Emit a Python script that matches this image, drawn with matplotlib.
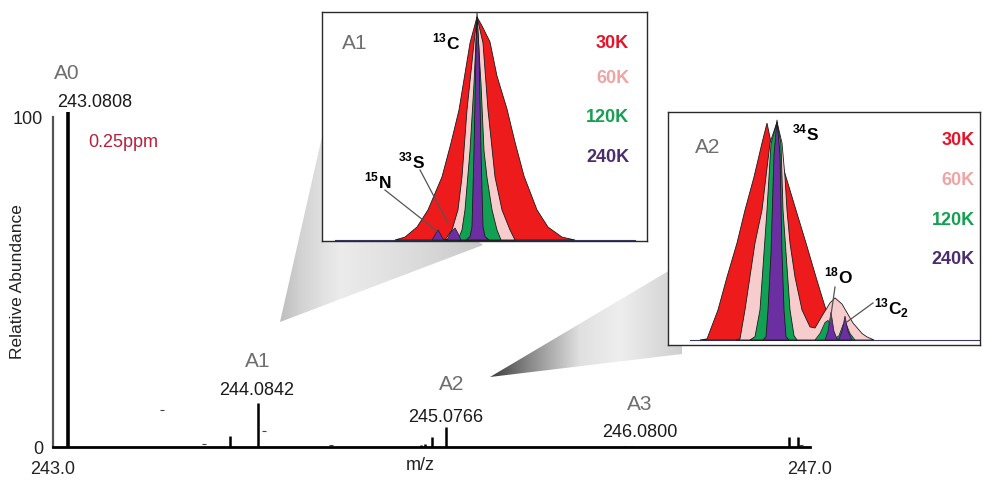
import numpy as np
import matplotlib.pyplot as plt
from matplotlib.patches import Polygon
from matplotlib.colors import to_rgb

plt.rcParams['font.family'] = ['Liberation Sans', 'DejaVu Sans']
plt.rcParams['mathtext.fontset'] = 'custom'
plt.rcParams['mathtext.rm'] = 'Liberation Sans'
plt.rcParams['mathtext.bf'] = 'Liberation Sans:bold'

# centroid spectrum (m/z, relative abundance)
peak_mz = [243.0808, 243.935, 244.0842, 244.945, 244.965, 245.003, 245.0766,
           246.02, 246.06, 246.889, 246.937]
peak_int = [101.5, 3.3, 13.3, 0.6, 0.8, 3.0, 6.1, 0.3, 0.3, 3.0, 3.0]
noise_mz = [243.576, 244.115, 243.80, 244.47, 246.95]
noise_int = [11.2, 4.8, 0.9, 0.6, 0.5]

# peak labels
iso_names = ['A0', 'A1', 'A2', 'A3']
iso_name_xy = [(243.074, 113.3), (244.083, 25.8), (245.108, 18.8), (246.102, 12.8)]
iso_mass = ['243.0808', '244.0842', '245.0766', '246.0800']
iso_mass_xy = [(243.222, 104.5), (244.078, 17.0), (245.077, 8.8), (246.102, 4.5)]

resolutions = ['30K', '60K', '120K', '240K']
res_fill = ['#ee1b1d', '#f7cccc', '#12a055', '#6b2fa2']
res_text = ['#e5142b', '#eea4a4', '#13a050', '#4b2d6e']

# A1 zoom profiles (position, % intensity)
a1_30k = [(395, 0), (405, 1.3), (417, 5.8), (428, 13.5), (442, 28.3), (451, 43.5),
          (459, 58.3), (470, 88.3), (477, 100), (482, 96), (490, 88.8), (497, 73.5),
          (507, 58.7), (515, 43.9), (524, 28.7), (537, 13.5), (548, 5.8), (562, 1.3), (575, 0)]
a1_60k = [(445, 0), (452, 4.5), (458, 13.5), (462, 28.3), (467, 58.3), (474, 88.3),
          (477, 100), (483, 88.3), (488, 58.3), (495, 28.3), (502, 13.5), (510, 4.5), (515, 0)]
a1_120k = [(458, 0), (462, 4.5), (465, 13.5), (470, 40), (474, 70), (477, 100),
           (481, 70), (484, 40), (487, 28), (492, 13.5), (497, 4.5), (501, 0)]
a1_240k = [(466, 0), (470, 1.5), (472, 6), (474, 40), (476, 85), (477, 102),
           (479, 85), (481, 40), (483, 6), (485, 1.5), (489, 0)]
a1_240k_minor = [(432, 0), (436, 3), (438, 4.5), (440, 3), (443, 0.5), (447, 0),
                 (451, 3.5), (455, 5.4), (458, 3), (461, 0)]

# A2 zoom profiles
a2_30k = [(700, 0), (707, 0.5), (718, 13.8), (727, 28.9), (737, 44.5), (745, 59.6),
          (754, 74.8), (762, 90.4), (767, 99.5), (772, 88.5), (780, 83.9), (786, 74.8),
          (796, 59.6), (806, 44.5), (816, 28.9), (823, 18.3), (827, 12.4), (835, 4.6), (845, 0)]
a2_60k = [(736, 0), (740, 0.5), (745, 13.8), (755, 44.5), (762, 59.6), (770, 90.4),
          (777, 100), (782, 90.4), (785, 74.8), (787, 59.6), (790, 44.5), (795, 28.9),
          (802, 13.8), (810, 6), (815, 5.5), (822, 11), (830, 17), (835, 19.3),
          (842, 16.5), (853, 7.8), (862, 3), (867, 1.4), (874, 0)]
a2_120k = [(750, 0), (755, 1.5), (760, 13.8), (764, 40), (767, 59.6), (771, 90),
           (777, 100), (781, 90), (783, 59.6), (786, 40), (790, 13.8), (794, 2), (797, 0)]
a2_120k_minor = [(815, 0), (820, 3), (825, 8), (828, 9), (832, 5), (836, 1),
                 (839, 2), (843, 7), (846, 7.5), (850, 3), (855, 0)]
a2_240k = [(763, 0), (766, 1.5), (768, 13.8), (771, 40), (774, 85), (777, 101),
           (780, 85), (782, 40), (784, 13.8), (786, 1.5), (789, 0)]
a2_240k_minor = [(825, 0), (828, 4), (831, 12.8), (834, 4), (837, 0.5), (839, 0.5),
                 (842, 4), (845, 11), (848, 4), (852, 0)]

W, H = 983, 480
fig = plt.figure(figsize=(W / 100, H / 100), dpi=100)


def frac_box(x0, y0, x1, y1):
    return [x0 / W, 1 - y1 / H, (x1 - x0) / W, (y1 - y0) / H]


# ---- main spectrum ----
ax = fig.add_axes(frac_box(53, 117, 810, 447), zorder=0)
ax.vlines(peak_mz[:1], 0, peak_int[:1], color='black', lw=2.6, clip_on=False)
ax.vlines(peak_mz[1:], 0, peak_int[1:], color='black', lw=1.8, clip_on=False)
ax.scatter(noise_mz, noise_int, marker='_', s=8, color='#444444', lw=0.8)
ax.set_xlim(243.0, 247.0)
ax.set_ylim(0, 100)
ax.set_xticks([243.0, 247.0])
ax.set_xticklabels(['243.0', '247.0'])
ax.set_yticks([0, 100])
ax.tick_params(length=0, labelsize=13, colors='#222222')
ax.tick_params(axis='x', pad=10)
ax.tick_params(axis='y', pad=7)
for s in ['top', 'right']:
    ax.spines[s].set_visible(False)
ax.spines['bottom'].set_linewidth(2)
ax.spines['left'].set_linewidth(1.6)
ax.spines['left'].set_color('#555555')
fig.text(18 / W, 1 - 282 / H, 'Relative Abundance', fontsize=12.5, color='#222222',
         rotation=90, ha='center', va='center')
fig.text(420 / W, 1 - 466 / H, 'm/z', fontsize=13, color='#222222', ha='center', va='center')

for name, (x, y) in zip(iso_names, iso_name_xy):
    ax.text(x, y, name, fontsize=15, color='#6e6e6e', ha='center', va='center')
for m, (x, y) in zip(iso_mass, iso_mass_xy):
    ax.text(x, y, m, fontsize=13, color='#1a1a1a', ha='center', va='center')
ax.text(243.185, 92.4, '0.25ppm', fontsize=13, color='#b8203c', ha='left', va='center')

# ---- callout wedges ----
ov = fig.add_axes([0, 0, 1, 1], zorder=1)
ov.set_xlim(0, W)
ov.set_ylim(H, 0)
ov.axis('off')


def wedge(pts, stops, cols):
    xs = [p[0] for p in pts]
    ys = [p[1] for p in pts]
    gx = np.linspace(min(xs), max(xs), 200)
    rgb = np.array([to_rgb(c) for c in cols])
    img = np.stack([np.interp(gx, stops, rgb[:, k]) for k in range(3)], axis=-1)[None, :, :]
    im = ov.imshow(img, extent=(min(xs), max(xs), max(ys), min(ys)), aspect='auto',
                   interpolation='bilinear')
    poly = Polygon(pts, closed=True, facecolor='none', edgecolor='none')
    ov.add_patch(poly)
    im.set_clip_path(poly)


wedge([(280, 322), (324, 128), (483, 245)],
      [280, 300, 340, 420, 483], ['#bdbdbd', '#d2d2d2', '#ececec', '#dadada', '#c8c8c8'])
wedge([(490, 377), (682, 263), (682, 354)],
      [490, 530, 580, 620, 682], ['#3c3c3c', '#8a8a8a', '#e0e0e0', '#eeeeee', '#cfcfcf'])


# ---- zoom insets ----
def draw_inset(box, ylim, profiles, minors, baseline_span):
    ins = fig.add_axes(frac_box(*box), zorder=2)
    ins.set_xlim(box[0], box[2])
    ins.set_ylim(*ylim)
    ins.set_xticks([])
    ins.set_yticks([])
    for s in ins.spines.values():
        s.set_color('#2a2a2a')
        s.set_linewidth(1.0)
    ins.plot(baseline_span, [0, 0], color='#3a3a6a', lw=0.8, zorder=1)
    for prof, col in zip(profiles, res_fill):
        x = [p[0] for p in prof]
        y = [p[1] for p in prof]
        ins.fill(x, y, facecolor=col, edgecolor='#1a1a1a', lw=0.6, zorder=2)
    for prof, col in minors:
        x = [p[0] for p in prof]
        y = [p[1] for p in prof]
        ins.fill(x, y, facecolor=col, edgecolor='#1a1a2a', lw=0.5, zorder=3)
    return ins


a1 = draw_inset((322, 12, 647, 241), (-0.45, 102.2),
                [a1_30k, a1_60k, a1_120k, a1_240k],
                [(a1_240k_minor, res_fill[3])], [335, 635])
a2 = draw_inset((668, 112, 980, 345), (-2.3, 104.6),
                [a2_30k, a2_60k, a2_120k, a2_240k],
                [(a2_120k_minor, res_fill[2]), (a2_240k_minor, res_fill[3])], [690, 980])

# inset labels
a1.text(355, 88.3, 'A1', fontsize=15, color='#6e6e6e', ha='center', va='center')
a1.text(446, 88.5, r'$^{\mathbf{13}}$C', fontsize=12.5, fontweight='bold', ha='center', va='center')
a1.text(412, 35.5, r'$^{\mathbf{33}}$S', fontsize=12.5, fontweight='bold', ha='center', va='center')
a1.text(378, 26.5, r'$^{\mathbf{15}}$N', fontsize=12.5, fontweight='bold', ha='center', va='center')
a1.plot([420, 448], [31.4, 7.6], color='#555555', lw=0.9, zorder=4)
a1.plot([385, 437], [22.4, 4.0], color='#555555', lw=0.9, zorder=4)
for i, (r, c) in enumerate(zip(resolutions, res_text)):
    a1.text(629, [88.3, 72.6, 54.7, 36.8][i], r, fontsize=13, fontweight='bold',
            color=c, ha='right', va='center')

a2.text(708, 88.1, 'A2', fontsize=15, color='#6e6e6e', ha='center', va='center')
a2.text(806, 95.0, r'$^{\mathbf{34}}$S', fontsize=12.5, fontweight='bold', ha='center', va='center')
a2.text(838, 29.4, r'$^{\mathbf{18}}$O', fontsize=12.5, fontweight='bold', ha='center', va='center')
a2.text(892, 14.7, r'$^{\mathbf{13}}$C$_{\mathbf{2}}$', fontsize=12.5, fontweight='bold',
        ha='center', va='center')
a2.plot([835, 830], [24.3, 8.3], color='#555555', lw=0.9, zorder=4)
a2.plot([873, 847], [17.0, 8.3], color='#555555', lw=0.9, zorder=4)
for i, (r, c) in enumerate(zip(resolutions, res_text)):
    a2.text(975, [91.7, 73.4, 55.0, 36.7][i], r, fontsize=13, fontweight='bold',
            color=c, ha='right', va='center')

fig.savefig('out.png', dpi=100)
